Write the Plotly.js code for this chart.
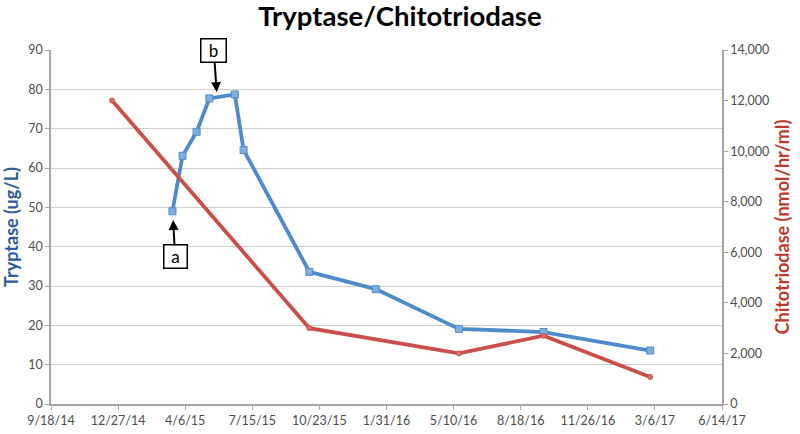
<!DOCTYPE html>
<html>
<head>
<meta charset="utf-8">
<script src="https://cdn.plot.ly/plotly-3.0.1.min.js"></script>
<style>
  html, body { margin: 0; padding: 0; background: #ffffff; }
  #chart { width: 800px; height: 434px; }
</style>
</head>
<body>
<div id="chart"></div>
<script>
// ---- Data ----
const tryptaseDates = ['2015-03-18','2015-04-02','2015-04-23','2015-05-12','2015-06-19','2015-07-02','2015-10-08','2016-01-15','2016-05-18','2016-09-21','2017-02-27'];
const tryptaseValues = [49, 63.1, 69.2, 77.7, 78.7, 64.6, 33.6, 29.2, 19.1, 18.3, 13.6];

const chitoDates = ['2014-12-18','2015-10-08','2016-05-18','2016-09-21','2017-02-27'];
const chitoValues = [12000, 3000, 2000, 2700, 1070];

const xTickVals = ['2014-09-18','2014-12-27','2015-04-06','2015-07-15','2015-10-23','2016-01-31','2016-05-10','2016-08-18','2016-11-26','2017-03-06','2017-06-14'];
const xTickText = ['9/18/14','12/27/14','4/6/15','7/15/15','10/23/15','1/31/16','5/10/16','8/18/16','11/26/16','3/6/17','6/14/17'];

const noteLabels = ['a', 'b'];
const noteDates = ['2015-03-19', '2015-05-23'];
const noteValues = [46.8, 79.3];

const blue = '#4F8BCB';
const red = '#CB4F48';
const fontFam = 'Lato, "Open Sans", sans-serif';
const tickFont = {family: fontFam, size: 12.5, color: '#4D4D4D'};

const traces = [
  {
    x: chitoDates, y: chitoValues, yaxis: 'y2', type: 'scatter', mode: 'lines+markers',
    line: {color: red, width: 3.8},
    marker: {symbol: 'circle', size: 5, color: '#D9706A', line: {color: red, width: 1}},
    hoverinfo: 'x+y', showlegend: false
  },
  {
    x: tryptaseDates, y: tryptaseValues, type: 'scatter', mode: 'lines+markers',
    line: {color: blue, width: 3.8},
    marker: {symbol: 'square', size: 7, color: '#7FAEE0', line: {color: blue, width: 1}},
    hoverinfo: 'x+y', showlegend: false
  }
];

const axisLine = '#A6A6A6';
const layout = {
  width: 800, height: 434,
  margin: {l: 51, r: 78, t: 50, b: 30},
  paper_bgcolor: '#ffffff', plot_bgcolor: '#ffffff',
  title: {
    text: '<b>Tryptase/Chitotriodase</b>',
    font: {family: fontFam, size: 27.5, color: '#000000'},
    x: 0.5, xanchor: 'center', y: 0.962, yanchor: 'middle'
  },
  xaxis: {
    type: 'date',
    range: ['2014-09-18', '2017-06-14'],
    tickmode: 'array', tickvals: xTickVals, ticktext: xTickText,
    showgrid: false, zeroline: false,
    showline: true, linecolor: axisLine, linewidth: 1.5,
    ticks: 'outside', ticklen: 4, tickcolor: axisLine,
    tickfont: tickFont
  },
  yaxis: {
    range: [0, 90], dtick: 10, tick0: 0,
    showgrid: true, gridcolor: '#CFCFCF', gridwidth: 1.4,
    zeroline: false,
    showline: true, linecolor: axisLine, linewidth: 1.5,
    ticks: 'outside', ticklen: 4, tickcolor: axisLine,
    tickfont: tickFont,
    title: {text: '<b>Tryptase (ug/L)</b>', font: {family: fontFam, size: 18, color: '#2E5C9A'}, standoff: 6}
  },
  yaxis2: {
    overlaying: 'y', side: 'right',
    range: [0, 14000], dtick: 2000, tick0: 0, tickformat: ',',
    showgrid: false, zeroline: false,
    showline: true, linecolor: axisLine, linewidth: 1.5,
    ticks: 'outside', ticklen: 4, tickcolor: axisLine,
    tickfont: tickFont,
    title: {text: '<b>Chitotriodase (nmol/hr/ml)</b>', font: {family: fontFam, size: 18, color: '#C0392B'}, standoff: 8}
  },
  annotations: [
    {
      x: noteDates[0], y: noteValues[0], xref: 'x', yref: 'y',
      text: noteLabels[0], showarrow: true, ax: 2, ay: 37,
      arrowhead: 2, arrowsize: 1, arrowwidth: 2, arrowcolor: '#000000',
      font: {family: fontFam, size: 17, color: '#000000'},
      bgcolor: '#ffffff', bordercolor: '#000000', borderwidth: 1.5, borderpad: 2,
      width: 18, height: 18
    },
    {
      x: noteDates[1], y: noteValues[1], xref: 'x', yref: 'y',
      text: noteLabels[1], showarrow: true, ax: -3, ay: -42,
      arrowhead: 2, arrowsize: 1, arrowwidth: 2, arrowcolor: '#000000',
      font: {family: fontFam, size: 17, color: '#000000'},
      bgcolor: '#ffffff', bordercolor: '#000000', borderwidth: 1.5, borderpad: 2,
      width: 20, height: 18
    }
  ]
};

Plotly.newPlot('chart', traces, layout, {displayModeBar: false, responsive: false});
</script>
</body>
</html>
